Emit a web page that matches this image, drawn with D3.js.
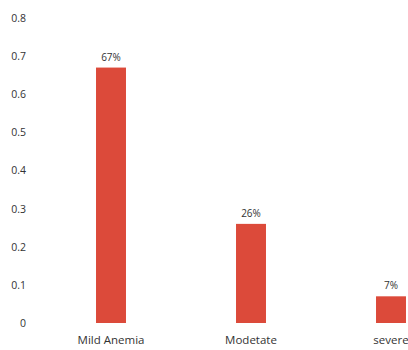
<!DOCTYPE html>
<html>
<head>
<meta charset="utf-8">
<script src="https://cdn.jsdelivr.net/npm/d3@7"></script>
<style>
  html, body { margin: 0; padding: 0; background: #fff; }
  svg { display: block; }
  text { font-family: "Open Sans", "Liberation Sans", sans-serif; fill: #333; }
</style>
</head>
<body>
<svg id="chart" width="408" height="350"></svg>
<script>
// Anemia severity shares
const categories = ["Mild Anemia", "Modetate", "severe"];
const values = [0.67, 0.26, 0.07];
const valueLabels = ["67%", "26%", "7%"];
const yTicks = [0, 0.1, 0.2, 0.3, 0.4, 0.5, 0.6, 0.7, 0.8];

const svg = d3.select("#chart");

const x = d3.scaleBand()
  .domain(categories)
  .range([41, 461])
  .paddingInner(0.786)
  .paddingOuter(0.393);

const y = d3.scaleLinear()
  .domain([0, 0.8])
  .range([323, 18]);

// Y axis: labels only, no line or ticks
const yAxis = d3.axisLeft(y)
  .tickValues(yTicks)
  .tickFormat(d => d === 0 ? "0" : d3.format(".1f")(d))
  .tickSize(0)
  .tickPadding(0);

svg.append("g")
  .attr("transform", "translate(26,0)")
  .call(yAxis)
  .call(g => g.select(".domain").remove())
  .selectAll("text")
  .style("font-size", "10.5px")
  .style("font-family", "'Open Sans', 'Liberation Sans', sans-serif")
  .attr("fill", "#333");

// X axis: category labels only
const xAxis = d3.axisBottom(x).tickSize(0).tickPadding(0);
svg.append("g")
  .attr("transform", "translate(0,336)")
  .call(xAxis)
  .call(g => g.select(".domain").remove())
  .selectAll("text")
  .style("font-size", "11.5px")
  .style("font-family", "'Open Sans', 'Liberation Sans', sans-serif")
  .attr("fill", "#333");

// Bars
svg.append("g")
  .selectAll("rect")
  .data(values)
  .join("rect")
  .attr("x", (d, i) => x(categories[i]))
  .attr("y", d => y(d))
  .attr("width", x.bandwidth())
  .attr("height", d => y(0) - y(d))
  .attr("fill", "#dc4a3a");

// Value labels above bars
svg.append("g")
  .selectAll("text")
  .data(values)
  .join("text")
  .attr("x", (d, i) => x(categories[i]) + x.bandwidth() / 2)
  .attr("y", d => y(d) - 7)
  .attr("text-anchor", "middle")
  .style("font-size", "10px")
  .text((d, i) => valueLabels[i]);
</script>
</body>
</html>
